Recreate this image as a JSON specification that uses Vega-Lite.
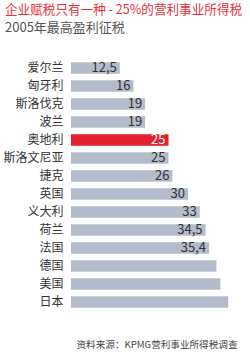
{
  "$schema": "https://vega.github.io/schema/vega-lite/v6.json",
  "autosize": "none",
  "width": 166,
  "height": 252,
  "padding": {"left": 71, "top": 59, "right": 13, "bottom": 41},
  "background": "white",
  "config": {"font": "Noto Sans CJK SC", "view": {"stroke": null}},
  "title": {
    "text": "企业赋税只有一种 - 25%的营利事业所得税",
    "subtitle": "2005年最高盈利征税",
    "anchor": "start",
    "frame": "group",
    "dx": -66,
    "offset": 24,
    "fontSize": 12.6,
    "fontWeight": "normal",
    "color": "#e8303a",
    "subtitleFontSize": 13,
    "subtitleColor": "#555555",
    "subtitlePadding": 5,
    "font": "Noto Sans CJK SC",
    "subtitleFont": "Noto Sans CJK SC"
  },
  "data": {
    "values": [
      {"country": "爱尔兰", "rate": 12.5, "label": "12,5", "hl": "no"},
      {"country": "匈牙利", "rate": 16, "label": "16", "hl": "no"},
      {"country": "斯洛伐克", "rate": 19, "label": "19", "hl": "no"},
      {"country": "波兰", "rate": 19, "label": "19", "hl": "no"},
      {"country": "奥地利", "rate": 25, "label": "25", "hl": "yes"},
      {"country": "斯洛文尼亚", "rate": 25, "label": "25", "hl": "no"},
      {"country": "捷克", "rate": 26, "label": "26", "hl": "no"},
      {"country": "英国", "rate": 30, "label": "30", "hl": "no"},
      {"country": "义大利", "rate": 33, "label": "33", "hl": "no"},
      {"country": "荷兰", "rate": 34.5, "label": "34,5", "hl": "no"},
      {"country": "法国", "rate": 35.4, "label": "35,4", "hl": "no"},
      {"country": "德国", "rate": 37.3, "label": "", "hl": "no"},
      {"country": "美国", "rate": 38.3, "label": "", "hl": "no"},
      {"country": "日本", "rate": 40.3, "label": "", "hl": "no"}
    ]
  },
  "encoding": {
    "y": {
      "field": "country",
      "type": "nominal",
      "sort": null,
      "scale": {"paddingInner": 0.35, "paddingOuter": 0.175},
      "axis": {
        "title": null,
        "ticks": false,
        "domain": false,
        "labelPadding": 8,
        "labelFontSize": 12,
        "labelColor": "#333333",
        "labelFont": "Noto Sans CJK SC"
      }
    },
    "x": {
      "field": "rate",
      "type": "quantitative",
      "scale": {"domain": [0, 42.56], "nice": false},
      "axis": {
        "title": "资料来源：KPMG营利事业所得税调查",
        "titleAnchor": "end",
        "titleFontSize": 9.6,
        "titleFontWeight": "normal",
        "titleColor": "#444444",
        "titlePadding": 28,
        "titleFont": "Noto Sans CJK SC",
        "labels": false,
        "ticks": false,
        "domain": false,
        "grid": false
      }
    }
  },
  "layer": [
    {
      "mark": {"type": "bar"},
      "encoding": {
        "color": {
          "field": "hl",
          "type": "nominal",
          "scale": {"domain": ["no", "yes"], "range": ["#b4bccb", "#e3202c"]},
          "legend": null
        }
      }
    },
    {
      "mark": {"type": "text", "align": "right", "dx": -3, "fontSize": 13, "baseline": "middle"},
      "encoding": {
        "text": {"field": "label"},
        "color": {
          "condition": {"test": "datum.hl === 'yes'", "value": "#ffffff"},
          "value": "#333333"
        }
      }
    }
  ]
}
